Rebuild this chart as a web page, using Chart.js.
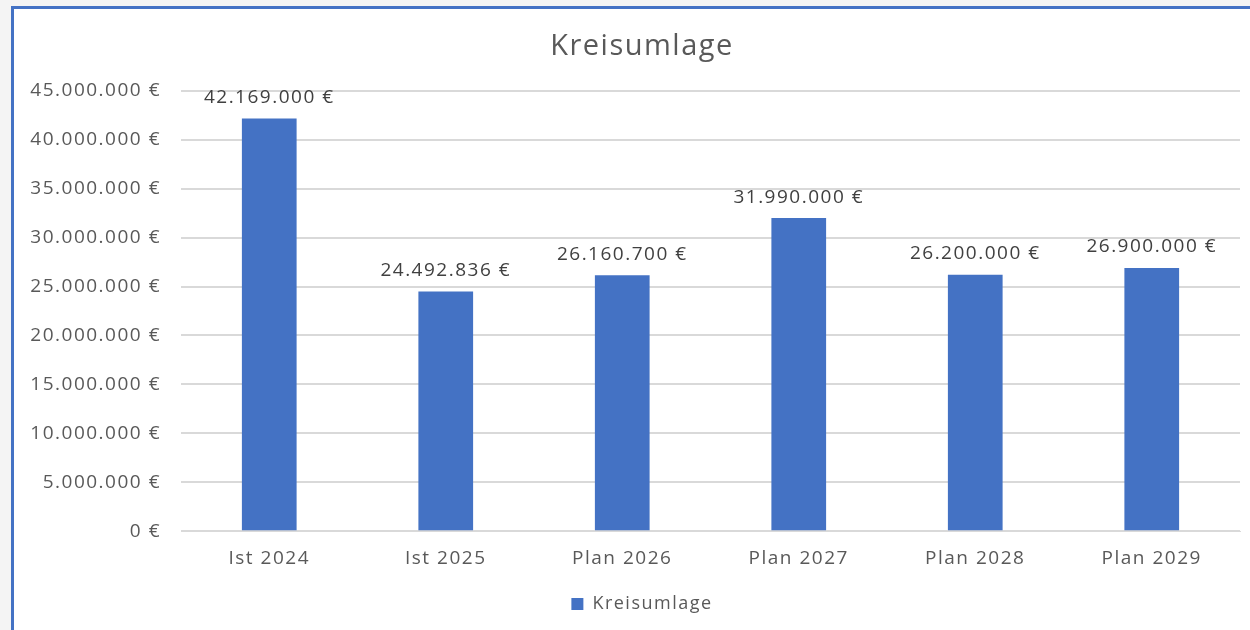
<!DOCTYPE html>
<html lang="de">
<head>
    <meta charset="UTF-8">
    <title>Kreisumlage</title>
    <style>
        html, body {
            margin: 0;
            padding: 0;
            background-color: #f4f4f4;
            overflow: hidden;
        }

        .frame {
            position: absolute;
            left: 11px;
            top: 6px;
            width: 1260px;
            height: 624px;
            background-color: #fff;
            border-left: 3px solid #4472c4;
            border-top: 3px solid #4472c4;
        }

        canvas {
            display: block;
        }
    </style>
</head>
<body>
    <div class="frame">
        <!-- etwas breiter als das Fenster, wie der abgeschnittene Original-Ausschnitt -->
        <canvas id="umlageChart" width="1256" height="621"></canvas>
    </div>

    <script src="https://cdn.jsdelivr.net/npm/chart.js"></script>
    <script>
        // Werte aus dem Haushaltsplan
        const categories = ['Ist 2024', 'Ist 2025', 'Plan 2026', 'Plan 2027', 'Plan 2028', 'Plan 2029'];
        const kreisumlage = [42169000, 24492836, 26160700, 31990000, 26200000, 26900000];
        const yTicks = [0, 5000000, 10000000, 15000000, 20000000, 25000000, 30000000, 35000000, 40000000, 45000000];

        const fontFamily = '"Open Sans", "Noto Sans", sans-serif';
        const grey = '#595959';
        const spacing = '1.5px';

        function euro(v) {
            return v.toLocaleString('de-DE') + ' €';
        }

        // etwas breitere Schrift wie im Original
        const wideText = {
            id: 'wideText',
            beforeUpdate(chart) { chart.ctx.letterSpacing = spacing; },
            beforeDraw(chart) { chart.ctx.letterSpacing = spacing; }
        };

        // Beschriftung über den Säulen
        const barLabels = {
            id: 'barLabels',
            afterDatasetsDraw(chart) {
                const ctx = chart.ctx;
                const meta = chart.getDatasetMeta(0);
                ctx.save();
                ctx.letterSpacing = spacing;
                ctx.font = '19px ' + fontFamily;
                ctx.fillStyle = '#404040';
                ctx.textAlign = 'center';
                ctx.textBaseline = 'middle';
                meta.data.forEach((bar, i) => {
                    ctx.fillText(euro(chart.data.datasets[0].data[i]), bar.x, bar.y - 21);
                });
                ctx.restore();
            }
        };

        const ctx = document.getElementById('umlageChart').getContext('2d');
        new Chart(ctx, {
            type: 'bar',
            data: {
                labels: categories,
                datasets: [{
                    label: 'Kreisumlage',
                    data: kreisumlage,
                    backgroundColor: '#4472c4',
                    categoryPercentage: 1,
                    barPercentage: 0.31
                }]
            },
            options: {
                responsive: false,
                animation: false,
                layout: {
                    padding: { left: 0, right: 0, top: 20, bottom: 7 }
                },
                plugins: {
                    title: {
                        display: true,
                        text: 'Kreisumlage',
                        color: grey,
                        font: { family: fontFamily, size: 29, weight: 'normal' },
                        padding: { top: 0, bottom: 27 }
                    },
                    legend: {
                        position: 'bottom',
                        labels: {
                            color: grey,
                            font: { family: fontFamily, size: 18 },
                            boxWidth: 12,
                            boxHeight: 12,
                            padding: 17
                        }
                    },
                    tooltip: { enabled: false }
                },
                scales: {
                    x: {
                        grid: { display: false },
                        border: { color: '#d9d9d9' },
                        ticks: {
                            color: grey,
                            font: { family: fontFamily, size: 19 },
                            padding: 8
                        }
                    },
                    y: {
                        min: 0,
                        max: 45000000,
                        afterFit(scale) {
                            scale.width = 167;
                        },
                        afterBuildTicks(scale) {
                            scale.ticks = yTicks.map(v => ({ value: v }));
                        },
                        grid: { color: '#d9d9d9', lineWidth: 2, drawTicks: false },
                        border: { display: false },
                        ticks: {
                            color: grey,
                            font: { family: fontFamily, size: 19 },
                            padding: 20,
                            callback: v => euro(v)
                        }
                    },
                    // leerer Rand rechts vom Diagramm
                    yRight: {
                        position: 'right',
                        afterFit(scale) {
                            scale.width = 30;
                        },
                        grid: { display: false },
                        border: { display: false },
                        ticks: { display: false }
                    }
                }
            },
            plugins: [wideText, barLabels]
        });
    </script>
</body>
</html>
